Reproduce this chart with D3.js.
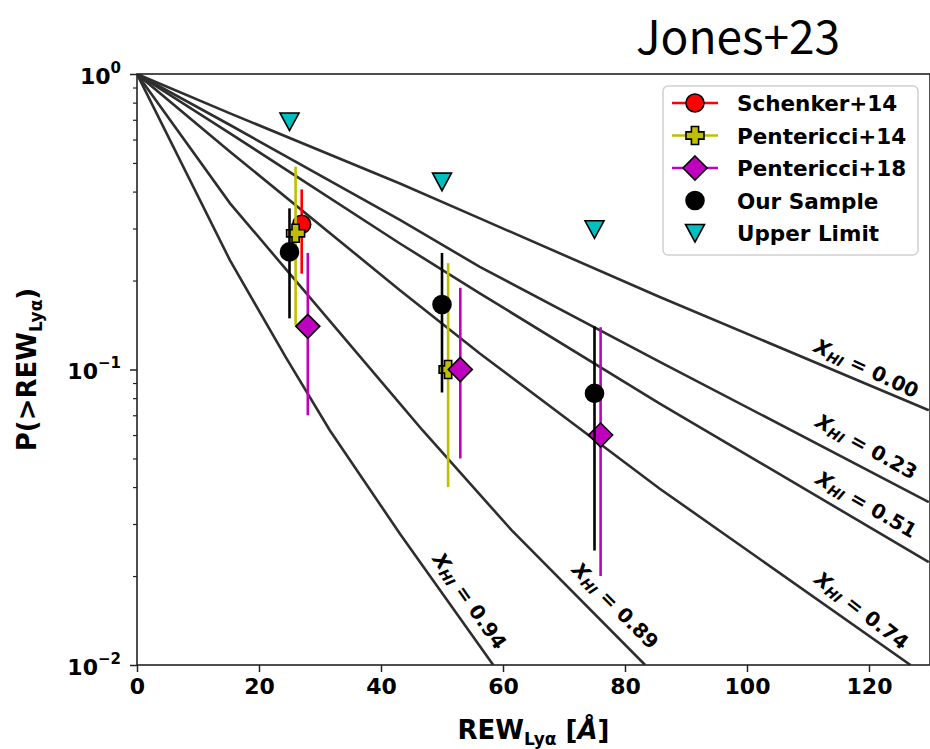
<!DOCTYPE html>
<html>
<head>
<meta charset="utf-8">
<script src="https://cdn.jsdelivr.net/npm/d3@7"></script>
<style>
  body { margin: 0; background: #fff; }
  text { font-family: "DejaVu Sans", sans-serif; font-weight: bold; }
  text.title { font-family: "Noto Sans CJK JP", "Noto Sans", sans-serif; font-weight: normal; }
</style>
</head>
<body>
<svg id="chart" width="930" height="749"></svg>
<script>
// ---- Model curves: P(>REW) versus REW for each neutral fraction X_HI ----
const xhiLabels = ["0.00", "0.23", "0.51", "0.74", "0.89", "0.94"];
const curveXhi000 = [[0, 1], [15.25, 0.736], [43.1, 0.426], [56.2, 0.3246], [85.7, 0.176], [129.8, 0.0728]];
const curveXhi023 = [[0, 1], [15.25, 0.672], [43.1, 0.3206], [56.2, 0.2226], [85.7, 0.1062], [129.8, 0.0356]];
const curveXhi051 = [[0, 1], [15.25, 0.630], [43.1, 0.267], [56.2, 0.181], [85.7, 0.0767], [129.8, 0.0223]];
const curveXhi074 = [[0, 1], [15.25, 0.546], [43.1, 0.1855], [56.2, 0.1133], [85.7, 0.0395], [126.8, 0.01]];
const curveXhi089 = [[0, 1], [15.25, 0.365], [43.1, 0.0767], [46.8, 0.0623], [61.4, 0.0286], [83.3, 0.01]];
const curveXhi094 = [[0, 1], [15.25, 0.234], [24.5, 0.109], [31.6, 0.0623], [43.1, 0.0278], [58.4, 0.01]];

// ---- Observations ----
const schenkerW = [27];
const schenkerP = [0.31];
const schenkerLo = [0.211];
const schenkerHi = [0.407];

const pentericci14W = [26, 51];
const pentericci14P = [0.289, 0.10];
const pentericci14Lo = [0.141, 0.040];
const pentericci14Hi = [0.486, 0.229];

const pentericci18W = [28, 53, 76];
const pentericci18P = [0.14, 0.10, 0.06];
const pentericci18Lo = [0.070, 0.050, 0.020];
const pentericci18Hi = [0.248, 0.189, 0.139];

const sampleW = [25, 50, 75];
const sampleP = [0.25, 0.166, 0.083];
const sampleLo = [0.149, 0.0836, 0.0244];
const sampleHi = [0.351, 0.248, 0.140];

const upperW = [25, 50, 75];
const upperP = [0.69, 0.432, 0.298];

// ---- Axis ticks ----
const xTicks = [0, 20, 40, 60, 80, 100, 120];
const yMajorTicks = [1, 0.1, 0.01];
const yMajorExp = ["0", "\u22121", "\u22122"];
const legendLabels = ["Schenker+14", "Pentericci+14", "Pentericci+18", "Our Sample", "Upper Limit"];

// ---- Layout ----
const margin = { left: 137, top: 74, right: 930, bottom: 665 };
const svg = d3.select("#chart");

const x = d3.scaleLinear().domain([0, 130]).range([margin.left, margin.right]);
const y = d3.scaleLog().domain([0.01, 1]).range([margin.bottom, margin.top]);

svg.append("defs").append("clipPath").attr("id", "plot-clip")
  .append("rect")
  .attr("x", margin.left).attr("y", margin.top)
  .attr("width", margin.right - margin.left).attr("height", margin.bottom - margin.top);

// model curve labels: placement in data coordinates + rotation
const curveLabelPos = [
  { w: 119.5, p: 0.1002, angle: 25 },
  { w: 119.5, p: 0.0545, angle: 29 },
  { w: 119.5, p: 0.0347, angle: 30 },
  { w: 118.7, p: 0.0152, angle: 38 },
  { w: 78.3, p: 0.0158, angle: 45 },
  { w: 54.4, p: 0.0164, angle: 55 }
];

const curves = [curveXhi000, curveXhi023, curveXhi051, curveXhi074, curveXhi089, curveXhi094];

const plot = svg.append("g").attr("clip-path", "url(#plot-clip)");
const line = d3.line().x(d => x(d[0])).y(d => y(d[1]));

plot.selectAll("path.model")
  .data(curves)
  .join("path")
  .attr("class", "model")
  .attr("d", line)
  .attr("fill", "none")
  .attr("stroke", "#2e2e2e")
  .attr("stroke-width", 2.6);

// curve labels
curveLabelPos.forEach((pos, i) => {
  const t = svg.append("text")
    .attr("transform", `translate(${x(pos.w)},${y(pos.p)}) rotate(${pos.angle})`)
    .attr("text-anchor", "middle")
    .attr("dominant-baseline", "middle")
    .attr("font-size", 20)
    .attr("fill", "#000");
  t.append("tspan").attr("font-style", "italic").text("X");
  t.append("tspan").attr("font-style", "italic").attr("font-size", 14).attr("dy", 5).text("HI");
  t.append("tspan").attr("dy", -5).text(" = " + xhiLabels[i]);
});

// ---- Marker shapes ----
function circlePath(r) { return d3.symbol(d3.symbolCircle, Math.PI * r * r)(); }
function diamondPath(h) { return `M0,${-h}L${h},0L0,${h}L${-h},0Z`; }
function plusPath(a, b) {
  // filled plus: arm half-length a, half-thickness b
  return `M${-b},${-a}H${b}V${-b}H${a}V${b}H${b}V${a}H${-b}V${b}H${-a}V${-b}H${-b}Z`;
}
function triDownPath(s) { return `M${-s},${-s * 0.9}L${s},${-s * 0.9}L0,${s * 0.95}Z`; }

function drawSeries(ws, ps, los, his, color, shape, fill) {
  const g = svg.append("g");
  if (los) {
    g.selectAll("line")
      .data(ws)
      .join("line")
      .attr("x1", d => x(d)).attr("x2", d => x(d))
      .attr("y1", (d, i) => y(los[i])).attr("y2", (d, i) => y(his[i]))
      .attr("stroke", color)
      .attr("stroke-width", 2.6);
  }
  g.selectAll("path")
    .data(ws)
    .join("path")
    .attr("transform", (d, i) => `translate(${x(d)},${y(ps[i])})`)
    .attr("d", shape)
    .attr("fill", fill)
    .attr("stroke", "#000")
    .attr("stroke-width", 1.6);
}

drawSeries(schenkerW, schenkerP, schenkerLo, schenkerHi, "#ff0000", circlePath(9), "#ff0000");
drawSeries(pentericci14W, pentericci14P, pentericci14Lo, pentericci14Hi, "#bfbf00", plusPath(9, 3.6), "#bfbf00");
drawSeries(pentericci18W, pentericci18P, pentericci18Lo, pentericci18Hi, "#bf00bf", diamondPath(12), "#bf00bf");
drawSeries(sampleW, sampleP, sampleLo, sampleHi, "#000000", circlePath(9), "#000000");
drawSeries(upperW, upperP, null, null, "#00bfbf", triDownPath(9.5), "#00bfbf");

// ---- Axes ----
const xAxis = d3.axisBottom(x).tickValues(xTicks).tickSize(7).tickPadding(6).tickFormat(d3.format("d"));
const gx = svg.append("g").attr("transform", `translate(0,${margin.bottom})`).call(xAxis);
gx.select(".domain").remove();
gx.selectAll(".tick line").attr("stroke", "#222").attr("stroke-width", 1.5);
gx.selectAll(".tick text")
  .attr("font-size", 22).attr("font-family", "DejaVu Sans").attr("font-weight", "bold").attr("fill", "#000");

const yMinor = [];
[0.01, 0.1].forEach(b => { for (let k = 2; k <= 9; k++) yMinor.push(b * k); });
const yAxisMinor = d3.axisLeft(y).tickValues(yMinor).tickSize(4).tickFormat("");
const gyMin = svg.append("g").attr("transform", `translate(${margin.left},0)`).call(yAxisMinor);
gyMin.select(".domain").remove();
gyMin.selectAll(".tick line").attr("stroke", "#222").attr("stroke-width", 1.2);

const yAxisMajor = d3.axisLeft(y).tickValues(yMajorTicks).tickSize(7).tickPadding(8).tickFormat("");
const gy = svg.append("g").attr("transform", `translate(${margin.left},0)`).call(yAxisMajor);
gy.select(".domain").remove();
gy.selectAll(".tick line").attr("stroke", "#222").attr("stroke-width", 1.5);
gy.selectAll(".tick").each(function (d, i) {
  const t = d3.select(this).append("text")
    .attr("x", -16).attr("y", 9)
    .attr("text-anchor", "end")
    .attr("font-size", 22).attr("fill", "#000");
  t.append("tspan").text("10");
  t.append("tspan").attr("font-size", 15).attr("dy", -11).text(yMajorExp[i]);
});

// frame
svg.append("rect")
  .attr("x", margin.left).attr("y", margin.top)
  .attr("width", margin.right - margin.left).attr("height", margin.bottom - margin.top)
  .attr("fill", "none").attr("stroke", "#222").attr("stroke-width", 1.6);

// axis titles
const xt = svg.append("text")
  .attr("x", (margin.left + margin.right) / 2).attr("y", 739)
  .attr("text-anchor", "middle").attr("font-size", 26).attr("fill", "#000");
xt.append("tspan").text("REW");
xt.append("tspan").attr("font-size", 17).attr("dy", 6).text("Ly\u03b1");
xt.append("tspan").attr("dy", -6).text(" [");
xt.append("tspan").attr("font-style", "italic").text("\u00c5");
xt.append("tspan").text("]");

const yt = svg.append("text")
  .attr("transform", `translate(36,${(margin.top + margin.bottom) / 2}) rotate(-90)`)
  .attr("text-anchor", "middle").attr("font-size", 26).attr("fill", "#000");
yt.append("tspan").text("P(>REW");
yt.append("tspan").attr("font-size", 17).attr("dy", 6).text("Ly\u03b1");
yt.append("tspan").attr("dy", -6).text(")");

// title
svg.append("text")
  .attr("class", "title")
  .attr("x", 738).attr("y", 54)
  .attr("text-anchor", "middle")
  .attr("font-size", 46)
  .attr("fill", "#000")
  .text("Jones+23");

// ---- Legend ----
const legend = svg.append("g").attr("transform", "translate(663,86)");
legend.append("rect")
  .attr("width", 255).attr("height", 169).attr("rx", 5)
  .attr("fill", "#fff").attr("fill-opacity", 0.85)
  .attr("stroke", "#d0d0d0").attr("stroke-width", 1.5);

const legendStyles = [
  { color: "#ff0000", shape: circlePath(9), line: true },
  { color: "#bfbf00", shape: plusPath(9, 3.6), line: true },
  { color: "#bf00bf", shape: diamondPath(12), line: true },
  { color: "#000000", shape: circlePath(9), line: false },
  { color: "#00bfbf", shape: triDownPath(9.5), line: false }
];
legendLabels.forEach((lab, i) => {
  const ly = 17 + i * 32.5;
  const st = legendStyles[i];
  if (st.line) {
    legend.append("line")
      .attr("x1", 9).attr("x2", 55).attr("y1", ly).attr("y2", ly)
      .attr("stroke", st.color).attr("stroke-width", 2.4);
  }
  legend.append("path")
    .attr("transform", `translate(32,${ly})`)
    .attr("d", st.shape)
    .attr("fill", st.color).attr("stroke", "#000").attr("stroke-width", 1.6);
  legend.append("text")
    .attr("x", 74).attr("y", ly + 8)
    .attr("font-size", 21.5).attr("fill", "#000")
    .text(lab);
});
</script>
</body>
</html>
